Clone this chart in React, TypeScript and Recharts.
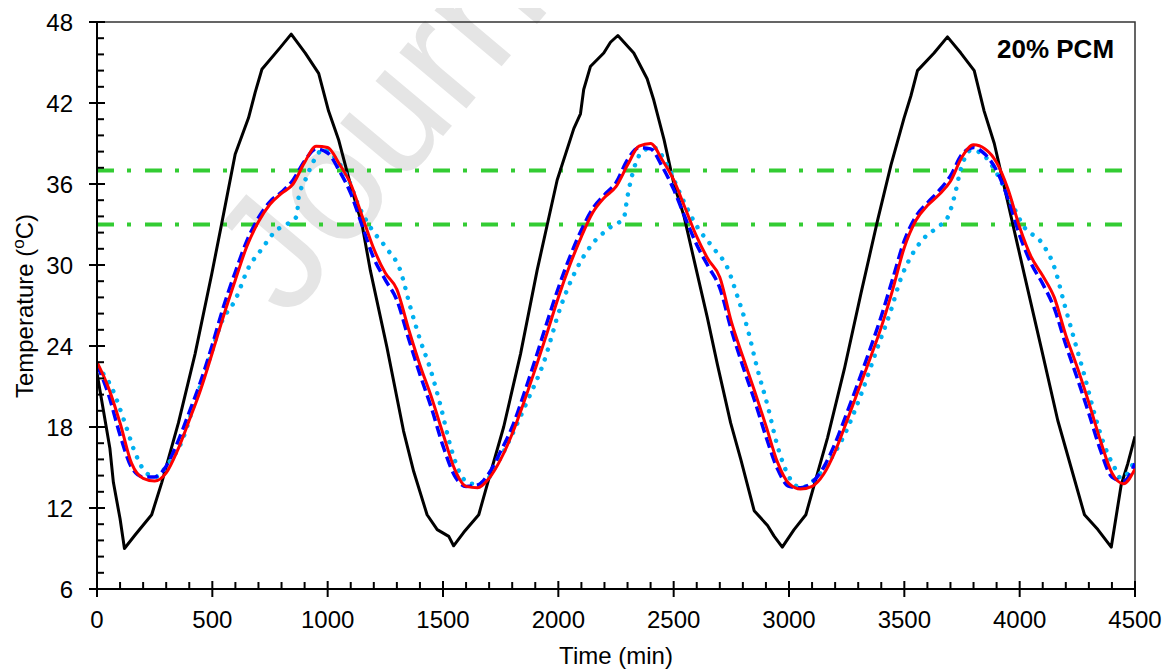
import { LineChart, Line, XAxis, YAxis, ReferenceLine, ReferenceArea } from 'recharts';

// ambient (black)
const ambientTime = [0, 56, 71, 100, 119, 165, 237, 281, 353, 425, 497, 541, 599, 657, 686, 715, 794, 842, 903, 961, 1004, 1047, 1098, 1149, 1185, 1257, 1329, 1373, 1431, 1475, 1525, 1546, 1590, 1655, 1691, 1763, 1836, 1908, 1995, 2067, 2096, 2110, 2139, 2197, 2226, 2258, 2327, 2385, 2414, 2458, 2501, 2545, 2588, 2646, 2690, 2747, 2791, 2849, 2907, 2936, 2971, 3022, 3073, 3109, 3167, 3240, 3312, 3384, 3442, 3499, 3528, 3557, 3629, 3687, 3745, 3803, 3846, 3890, 3948, 4020, 4093, 4165, 4223, 4281, 4339, 4397, 4440, 4469, 4500];
const ambientTemp = [22.0, 16.4, 13.9, 11.2, 9.0, 10.0, 11.5, 13.9, 18.3, 23.4, 29.3, 33.1, 38.2, 40.9, 42.8, 44.5, 46.1, 47.1, 45.7, 44.2, 41.4, 39.3, 36.0, 33.0, 29.6, 23.9, 17.7, 14.7, 11.5, 10.4, 9.9, 9.2, 10.2, 11.5, 13.7, 18.0, 23.4, 29.6, 36.3, 40.1, 41.2, 43.0, 44.7, 45.7, 46.5, 47.0, 45.7, 43.8, 42.2, 39.3, 36.0, 33.6, 30.4, 26.1, 22.6, 18.3, 15.6, 11.8, 10.7, 9.9, 9.1, 10.4, 11.5, 13.7, 17.2, 22.3, 27.9, 33.3, 37.4, 40.9, 42.5, 44.4, 45.7, 46.9, 45.7, 44.4, 41.4, 39.0, 34.7, 29.3, 23.9, 18.5, 15.0, 11.5, 10.4, 9.1, 13.7, 15.3, 17.3];

// light blue dotted
const dottedTime = [0, 64, 121, 165, 208, 252, 309, 367, 425, 483, 541, 599, 657, 715, 773, 830, 866, 874, 903, 946, 982, 1033, 1091, 1134, 1185, 1257, 1315, 1358, 1402, 1445, 1489, 1532, 1576, 1619, 1677, 1735, 1793, 1865, 1937, 2010, 2082, 2140, 2226, 2284, 2299, 2327, 2371, 2414, 2472, 2530, 2603, 2675, 2733, 2776, 2820, 2863, 2907, 2950, 2994, 3052, 3110, 3167, 3240, 3312, 3384, 3441, 3485, 3528, 3586, 3644, 3687, 3716, 3745, 3789, 3832, 3890, 3962, 4020, 4093, 4151, 4194, 4238, 4281, 4324, 4368, 4411, 4440, 4483, 4500];
const dottedTemp = [22.5, 20.9, 18.3, 16.1, 14.7, 14.3, 15.3, 16.9, 19.9, 22.8, 25.8, 27.4, 29.8, 31.2, 32.5, 33.1, 33.6, 35.0, 36.3, 37.9, 38.6, 37.9, 36.3, 34.4, 32.8, 31.2, 29.6, 26.9, 24.4, 22.3, 19.6, 16.6, 14.5, 13.8, 13.9, 15.3, 17.2, 19.9, 22.8, 26.9, 29.8, 31.4, 32.8, 33.5, 35.0, 37.1, 38.5, 38.7, 37.4, 35.2, 32.8, 31.2, 29.8, 27.7, 25.3, 22.3, 19.6, 16.6, 14.5, 13.5, 14.1, 15.3, 17.4, 20.4, 23.9, 26.6, 29.0, 30.6, 32.0, 32.8, 33.5, 35.0, 37.1, 38.5, 38.3, 37.1, 34.7, 32.8, 31.7, 29.8, 27.1, 24.4, 21.8, 19.0, 16.6, 15.0, 14.2, 15.0, 15.6];

// blue dashed and red solid share a 50 min grid
const gridTime = [0, 50, 100, 150, 200, 250, 300, 350, 400, 450, 500, 550, 600, 650, 700, 750, 800, 850, 900, 950, 1000, 1050, 1100, 1150, 1200, 1250, 1300, 1350, 1400, 1450, 1500, 1550, 1600, 1650, 1700, 1750, 1800, 1850, 1900, 1950, 2000, 2050, 2100, 2150, 2200, 2250, 2300, 2350, 2400, 2450, 2500, 2550, 2600, 2650, 2700, 2750, 2800, 2850, 2900, 2950, 3000, 3050, 3100, 3150, 3200, 3250, 3300, 3350, 3400, 3450, 3500, 3550, 3600, 3650, 3700, 3750, 3800, 3850, 3900, 3950, 4000, 4050, 4100, 4150, 4200, 4250, 4300, 4350, 4400, 4450, 4500];
const dashedTemp = [22.6, 20.4, 17.4, 15.0, 14.3, 14.3, 15.1, 16.9, 19.1, 21.4, 24.1, 27.0, 29.5, 31.8, 33.5, 34.7, 35.4, 36.3, 37.7, 38.6, 38.3, 37.0, 35.3, 32.9, 30.5, 28.9, 27.4, 24.6, 21.9, 19.4, 16.6, 14.4, 13.6, 13.7, 14.6, 16.2, 18.0, 20.4, 23.0, 25.7, 28.3, 30.6, 32.6, 34.2, 35.2, 36.1, 37.8, 38.7, 38.6, 37.3, 35.6, 33.5, 31.5, 29.9, 28.3, 25.2, 22.5, 20.0, 17.3, 14.9, 13.6, 13.5, 13.9, 15.0, 16.8, 19.0, 21.3, 23.7, 26.2, 29.0, 31.8, 33.6, 34.6, 35.5, 36.6, 38.2, 38.7, 38.2, 37.0, 34.9, 32.2, 30.1, 28.6, 26.8, 24.1, 21.6, 19.0, 16.3, 14.3, 14.0, 15.3];
const solidTemp = [22.8, 20.9, 18.3, 15.3, 14.2, 14.0, 14.6, 16.3, 18.5, 20.8, 23.5, 26.3, 28.9, 31.4, 33.2, 34.5, 35.3, 36.0, 37.6, 38.8, 38.7, 37.5, 36.0, 33.6, 31.2, 29.4, 28.2, 25.3, 22.6, 20.2, 17.5, 14.9, 13.6, 13.5, 14.2, 15.6, 17.5, 19.8, 22.3, 24.9, 27.6, 30.0, 32.1, 33.9, 35.0, 35.8, 37.4, 38.8, 39.0, 37.8, 36.3, 34.2, 32.1, 30.4, 29.1, 25.8, 23.2, 20.7, 18.1, 15.4, 13.8, 13.4, 13.6, 14.5, 16.2, 18.4, 20.7, 23.0, 25.4, 28.2, 31.3, 33.3, 34.4, 35.2, 36.2, 38.0, 38.9, 38.6, 37.6, 35.6, 32.8, 30.6, 29.2, 27.6, 24.8, 22.4, 19.8, 17.0, 14.6, 13.8, 14.9];

// phase change band
const bandLimits = [37, 33];

const xMajor = [0, 500, 1000, 1500, 2000, 2500, 3000, 3500, 4000, 4500];
const yMajor = [6, 12, 18, 24, 30, 36, 42, 48];
const xTicks = Array.from({ length: 46 }, (_, i) => i * 100);
const yTicks = Array.from({ length: 36 }, (_, i) => +(6 + i * 1.2).toFixed(1));

const toPoints = (ts: number[], vs: number[]) => ts.map((t, i) => ({ t, v: vs[i] }));

const FONT = '"Liberation Sans", Arial, sans-serif';

const XTick = ({ x, y, payload }: any) => {
  const major = xMajor.includes(payload.value);
  return (
    <g>
      <line x1={x} x2={x} y1={major ? y - 8 : y - 7} y2={major ? y + 8 : y} stroke="#000" strokeWidth={2} />
      {major && (
        <text x={x} y={y + 39} textAnchor="middle" fontSize={24} fontFamily={FONT} fill="#000">
          {payload.value}
        </text>
      )}
    </g>
  );
};

const YTick = ({ x, y, payload }: any) => {
  const major = yMajor.some((m) => Math.abs(m - payload.value) < 0.01);
  return (
    <g>
      <line x1={major ? x - 8 : x} x2={major ? x + 8 : x + 7} y1={y} y2={y} stroke="#000" strokeWidth={2} />
      {major && (
        <text x={x - 24} y={y} dy="0.36em" textAnchor="end" fontSize={24} fontFamily={FONT} fill="#000">
          {Math.round(payload.value)}
        </text>
      )}
    </g>
  );
};

const YTitle = () => (
  <text transform="translate(25,298) rotate(-90)" textAnchor="middle" fontSize={24} fontFamily={FONT} fill="#000">
    Temperature (<tspan dy={-9} fontSize={17}>o</tspan>
    <tspan dy={9}>C)</tspan>
  </text>
);

const XTitle = () => (
  <text x={608} y={656} textAnchor="middle" fontSize={24} fontFamily={FONT} fill="#000">
    Time (min)
  </text>
);

export default function App() {
  return (
    <div style={{ position: 'relative', width: 1164, height: 664, fontFamily: FONT }}>
      <svg width={1164} height={664} style={{ position: 'absolute', left: 0, top: 0 }}>
        <text
          x={280}
          y={313}
          transform="rotate(-50 280 313)"
          fontSize={165}
          fontFamily={FONT}
          fill="#e5e5e5"
        >
          Journal
        </text>
      </svg>
      <div style={{ position: 'absolute', left: 0, top: 0 }}>
        <LineChart width={1164} height={664} margin={{ top: 14, right: 37, left: 29, bottom: 33 }}>
          <ReferenceArea x1={0} x2={4500} y1={6} y2={48} fill="none" stroke="#333" strokeWidth={1.5} />
          <XAxis
            dataKey="t"
            type="number"
            domain={[0, 4500]}
            ticks={xTicks}
            interval={0}
            height={50}
            tickSize={0}
            tickMargin={0}
            tick={<XTick />}
            axisLine={{ stroke: '#000', strokeWidth: 2 }}
            label={{ content: <XTitle /> }}
            allowDataOverflow
          />
          <YAxis
            type="number"
            domain={[6, 48]}
            ticks={yTicks}
            interval={0}
            width={60}
            tickSize={0}
            tickMargin={0}
            tick={<YTick />}
            axisLine={{ stroke: '#000', strokeWidth: 2 }}
            label={{ content: <YTitle /> }}
            allowDataOverflow
          />
          {bandLimits.map((v) => (
            <ReferenceLine key={v} y={v} stroke="#33CC33" strokeWidth={4} strokeDasharray="17 13 4 14" />
          ))}
          <Line
            data={toPoints(ambientTime, ambientTemp)}
            dataKey="v"
            type="linear"
            stroke="#000"
            strokeWidth={3}
            strokeLinejoin="round"
            dot={false}
            activeDot={false}
            isAnimationActive={false}
          />
          <Line
            data={toPoints(dottedTime, dottedTemp)}
            dataKey="v"
            type="monotone"
            stroke="#00B0F0"
            strokeWidth={4.5}
            strokeDasharray="0.01 10"
            strokeLinecap="round"
            dot={false}
            activeDot={false}
            isAnimationActive={false}
          />
          <Line
            data={toPoints(gridTime, dashedTemp)}
            dataKey="v"
            type="monotone"
            stroke="#0000FF"
            strokeWidth={3.5}
            strokeDasharray="11 5"
            dot={false}
            activeDot={false}
            isAnimationActive={false}
          />
          <Line
            data={toPoints(gridTime, solidTemp)}
            dataKey="v"
            type="monotone"
            stroke="#FF0000"
            strokeWidth={3}
            dot={false}
            activeDot={false}
            isAnimationActive={false}
          />
        </LineChart>
      </div>
      <svg width={1164} height={664} style={{ position: 'absolute', left: 0, top: 0, pointerEvents: 'none' }}>
        <text x={989} y={50} fontSize={26} fontWeight="bold" fontFamily={FONT} fill="#000">
          20% PCM
        </text>
      </svg>
    </div>
  );
}
